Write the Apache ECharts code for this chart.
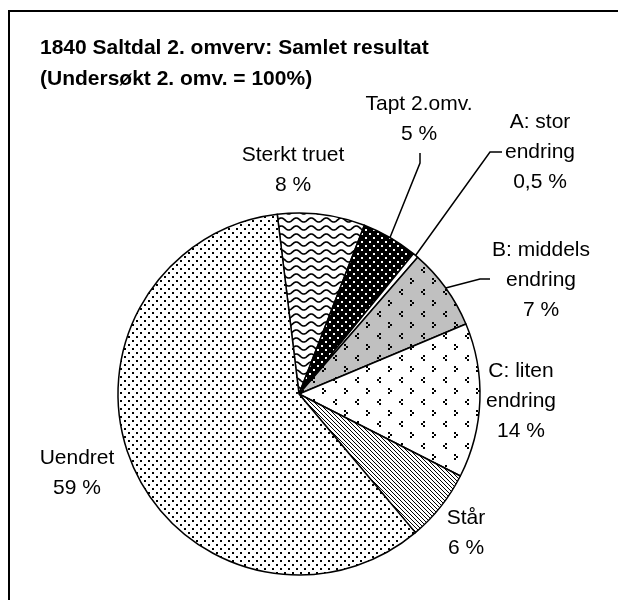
<!DOCTYPE html>
<html><head><meta charset="utf-8">
<script src="https://cdn.jsdelivr.net/npm/echarts@6/dist/echarts.min.js"></script>
<style>html,body{margin:0;padding:0;background:#fff}#c{width:618px;height:600px}</style>
</head><body><div id="c"></div>
<script>
// ---- data ----
const categories = ['Sterkt truet', 'Tapt 2.omv.', 'A: stor endring', 'B: middels endring', 'C: liten endring', 'Står', 'Uendret'];
const values = [7.8, 5.0, 0.5, 7.3, 13.8, 6.4, 59.2];
const valueLabels = ['8 %', '5 %', '0,5 %', '7 %', '14 %', '6 %', '59 %'];
const labelNames = ['Sterkt truet', 'Tapt 2.omv.', 'A: stor\nendring', 'B: middels\nendring', 'C: liten\nendring', 'Står', 'Uendret'];
const titleText = '1840 Saltdal 2. omverv: Samlet resultat\n(Undersøkt 2. omv. = 100%)';

// ---- layout / style ----
const CX = 299, CY = 394, R = 181, START = 96.9;
const labelPos = [[293, 170], [419, 119], [540, 152], [541, 280], [521, 401], [466, 533], [77, 473]];
const linePts = [null, [[1, 44], [1, 34]], [[-50, 0], [-38, 0]], [[-61, -1], [-51, -1]], null, null, null];

function tile(w, h, bg, draw) {
  const c = document.createElement('canvas'); c.width = w; c.height = h;
  const g = c.getContext('2d'); g.fillStyle = bg; g.fillRect(0, 0, w, h);
  g.fillStyle = '#000'; g.strokeStyle = '#000'; draw(g);
  return { image: c, repeat: 'repeat' };
}
const pDots = tile(8, 8, '#fff', g => { g.fillRect(0, 0, 2, 2); g.fillRect(4, 4, 2, 2); });
const pBlack = tile(8, 8, '#000', g => { g.fillStyle = '#fff'; g.fillRect(1, 1, 2, 2); g.fillRect(5, 5, 2, 2); });
const pWave = tile(15, 8, '#fff', g => {
  g.lineWidth = 1.7; g.beginPath();
  for (let x = -1; x <= 16; x += 0.5) { const y = 4 + 2 * Math.sin(x / 15 * 2 * Math.PI); if (x === -1) g.moveTo(x, y); else g.lineTo(x, y); }
  g.stroke();
});
function chev(bg) {
  return tile(22, 22, bg, g => {
    g.fillRect(5, 3, 2, 2); g.fillRect(3, 5, 2, 2); g.fillRect(5, 7, 2, 2);
    g.fillRect(14, 14, 2, 2); g.fillRect(16, 16, 2, 2); g.fillRect(14, 18, 2, 2);
  });
}
const pDiag = tile(4, 4, '#fff', g => { for (let i = 0; i < 4; i++) g.fillRect(i, i, 1, 1); });
const fills = [pWave, pBlack, '#ffffff', chev('#c0c0c0'), chev('#ffffff'), pDiag, pDots];

const total = values.reduce((a, b) => a + b, 0);
function edgePoint(i) {
  let cum = 0; for (let k = 0; k < i; k++) cum += values[k];
  const a = (START - (cum + values[i] / 2) / total * 360) * Math.PI / 180;
  return [CX + R * Math.cos(a), CY - R * Math.sin(a)];
}

const chart = echarts.init(document.getElementById('c'), null, { renderer: 'canvas' });
chart.setOption({
  animation: false,
  backgroundColor: '#fff',
  title: {
    text: titleText, left: 40, top: 33, padding: 0,
    textStyle: { fontFamily: 'Liberation Sans, Arial, sans-serif', fontSize: 21, fontWeight: 'bold', color: '#000', lineHeight: 31 }
  },
  graphic: [{
    type: 'rect', shape: { x: 9, y: 11, width: 800, height: 800 },
    style: { fill: 'none', stroke: '#000', lineWidth: 2 }, silent: true, z: 100
  }],
  series: [{
    type: 'pie',
    center: [CX, CY], radius: R,
    startAngle: START, clockwise: true,
    avoidLabelOverlap: false, minShowLabelAngle: 0,
    emphasis: { disabled: true }, silent: true,
    itemStyle: { borderColor: '#000', borderWidth: 1.5 },
    label: {
      show: true, position: 'outside', color: '#000',
      fontFamily: 'Liberation Sans, Arial, sans-serif', fontSize: 21, lineHeight: 30,
      formatter: p => labelNames[p.dataIndex] + '\n' + valueLabels[p.dataIndex]
    },
    labelLine: { show: true, length: 10, length2: 10, lineStyle: { color: '#000', width: 1.5 } },
    labelLayout: function (p) {
      const i = p.dataIndex, pos = labelPos[i];
      const out = { x: pos[0], y: pos[1], align: 'center', verticalAlign: 'middle' };
      if (linePts[i]) out.labelLinePoints = [edgePoint(i)].concat(linePts[i].map(d => [pos[0] + d[0], pos[1] + d[1]]));
      return out;
    },
    data: categories.map((c, i) => ({
      name: c, value: values[i],
      itemStyle: { color: fills[i] },
      labelLine: { show: !!linePts[i] }
    }))
  }]
});
</script></body></html>
